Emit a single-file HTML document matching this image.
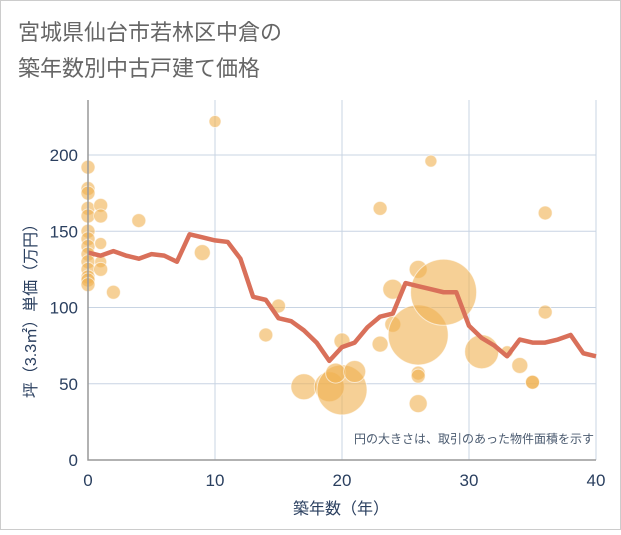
<!DOCTYPE html>
<html><head><meta charset="utf-8"><style>
body{margin:0;background:#fff;font-family:"Liberation Sans","Noto Sans CJK JP",sans-serif;}
</style></head><body>
<svg width="621" height="530" xmlns="http://www.w3.org/2000/svg">
<rect x="0.5" y="0.5" width="620" height="529" fill="#fff" stroke="#ccc"/>
<text x="18" y="40" font-size="22" fill="#666" font-family="Liberation Sans, Noto Sans CJK JP, sans-serif">宮城県仙台市若林区中倉の</text>
<text x="18" y="76" font-size="22" fill="#666" font-family="Liberation Sans, Noto Sans CJK JP, sans-serif">築年数別中古戸建て価格</text>
<g id="grid"></g><g id="bubbles"></g><g id="line"></g><g id="axes"></g>
<text x="594" y="443" font-size="12" fill="#4a5a6f" text-anchor="end" font-family="Liberation Sans, Noto Sans CJK JP, sans-serif">円の大きさは、取引のあった物件面積を示す</text>
<text x="341" y="514" font-size="16" fill="#2a3f5f" text-anchor="middle" font-family="Liberation Sans, Noto Sans CJK JP, sans-serif">築年数（年）</text>
<text transform="translate(36,307) rotate(-90)" font-size="16" fill="#2a3f5f" text-anchor="middle" font-family="Liberation Sans, Noto Sans CJK JP, sans-serif">坪（3.3㎡）単価（万円）</text>
</svg>
<script>
const xTicks=[0,10,20,30,40];
const yTicks=[0,50,100,150,200];
const lineYears=[0,1,2,3,4,5,6,7,8,9,10,11,12,13,14,15,16,17,18,19,20,21,22,23,24,25,26,27,28,29,30,31,32,33,34,35,36,37,38,39,40];
const lineValues=[136,134,137,134,132,135,134,130,148,146,144,143,132,107,105,93,91,85,77,65,74,77,87,94,96,116,114,112,110,110,88,80,75,68,79,77,77,79,82,70,68];
const bubbleYears=[0,0,0,0,0,0,0,0,0,0,0,0,0,0,1,1,1,1,1,2,4,9,10,14,15,17,19,20,19.5,20,21,23,23,24,24,26,26,26,26,26,27,28,31,33,34,35,35,36,36];
const bubbleValues=[192,178,175,165,160,150,145,140,135,130,125,120,118,115,167,160,142,130,125,110,157,136,222,82,101,48,48,46,57,78,58,165,76,112,89,82,125,57,55,37,196,110,71,71,62,51,51,162,97];
const bubbleSizes=[7,7,7,7,7,7,7,7,7,7,7,7,7,7,7,7,6,6,7,7,7,8,6,7,7,13,15,25,10,8,11,7,8,10,8,30,9,7,7,9,6,33,17,6,8,7,7,7,7];
const X=v=>88+v*12.7, Y=v=>460-v*1.525;
const NS='http://www.w3.org/2000/svg';
function mk(t,a,p){const e=document.createElementNS(NS,t);for(const k in a)e.setAttribute(k,a[k]);document.getElementById(p).appendChild(e);return e;}
xTicks.forEach(t=>{const l=mk('line',{x1:X(t),x2:X(t),y1:100,y2:460,stroke:'#c8d4e3'},'grid');


const tx=mk('text',{x:X(t),y:486,'font-size':17,fill:'#2a3f5f','text-anchor':'middle'},'axes');tx.textContent=t;

});
yTicks.forEach(t=>{const l=mk('line',{x1:88,x2:596,y1:Y(t),y2:Y(t),stroke:'#c8d4e3'},'grid');


const tx=mk('text',{x:78,y:Y(t)+6,'font-size':17,fill:'#2a3f5f','text-anchor':'end'},'axes');tx.textContent=t;

});
const ax=mk('path',{d:'M88,100V460H596',fill:'none',stroke:'#999','stroke-width':1.5},'axes');


bubbleYears.forEach((y,i)=>{const c=mk('circle',{cx:X(y),cy:Y(bubbleValues[i]),r:bubbleSizes[i],fill:'#f0b050','fill-opacity':0.6,stroke:'#fff','stroke-opacity':0.6},'bubbles');

});
const p=mk('polyline',{points:lineYears.map((y,i)=>X(y)+','+Y(lineValues[i])).join(' '),fill:'none',stroke:'#d9705a','stroke-width':4.5,'stroke-linejoin':'round'},'line');


</script>
</body></html>
